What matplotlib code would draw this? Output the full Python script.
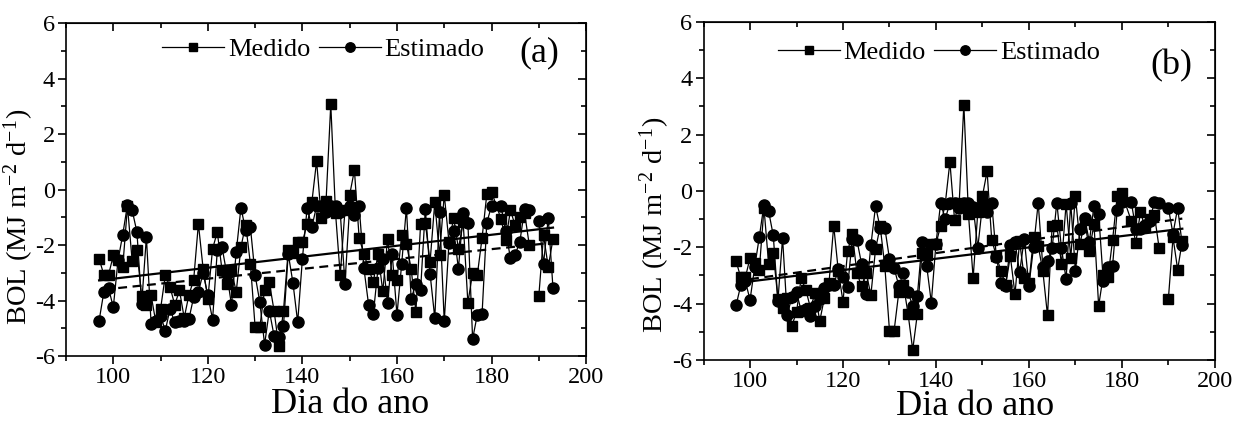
import numpy as np
import matplotlib
matplotlib.use("Agg")
import matplotlib.pyplot as plt
from matplotlib.ticker import MultipleLocator

plt.rcParams['font.family'] = ['Liberation Serif', 'DejaVu Serif']
plt.rcParams['mathtext.fontset'] = 'stix'
plt.rcParams['axes.unicode_minus'] = False

nan = np.nan

# day of year (181 not present, 189 breaks the lines)
days = list(range(97, 181)) + list(range(182, 194))

medido = [-2.49, -3.07, -3.07, -2.37, -2.55, -2.79, -0.60, -2.59, -2.19, -3.84,   # 97-106
          -4.15, -3.81, -4.78, -4.30, -3.09, -3.51, -4.15, -3.63, -4.62, -3.79,   # 107-116
          -3.25, -1.23, -2.85, -3.93, -2.13, -1.53, -2.91, -3.39, -2.91, -3.69,   # 117-126
          -2.07, -1.26, -2.67, -4.96, -4.96, -3.60, -3.33, -4.36, -5.64, -4.36,   # 127-136
          -2.19, -2.27, -1.89, -1.89, -1.23, -0.45, 1.03, -1.02, -0.42, 3.07,     # 137-146
          -0.83, -3.09, -0.75, -0.18, 0.70, -1.74, -2.31, -2.85, -3.33, -2.31,    # 147-156
          -3.67, -1.79, -3.09, -3.27, -1.65, -1.95, -2.85, -4.42, -1.23, -1.19,   # 157-166
          -2.61, -0.45, -2.37, -0.18, -1.89, -1.02, -2.13, -1.17, -4.08, -3.00,   # 167-176
          -3.07, -1.74, -0.17, -0.08,                                             # 177-180
          -1.05, -1.83, -0.75, -1.29, -0.99, -0.85, -2.01, nan, -3.84, -1.65,     # 182-191
          -2.79, -1.77]                                                           # 192-193

estimado_a = [-4.72, -3.69, -3.55, -4.24, -2.55, -1.62, -0.54, -0.75, -1.53, -4.12,
              -1.71, -4.84, -4.75, -4.54, -5.08, -4.30, -4.78, -4.72, -4.72, -4.66,
              -3.87, -3.69, -3.00, -3.81, -4.68, -2.19, -2.07, -3.03, -4.15, -2.25,
              -0.65, -1.47, -1.35, -3.09, -4.06, -5.58, -4.36, -5.26, -5.32, -4.90,
              -2.31, -3.36, -4.78, -2.49, -0.65, -1.35, -0.59, -0.59, -0.81, -0.59,
              -0.59, -0.81, -3.39, -0.59, -0.93, -0.59, -2.82, -4.15, -4.48, -2.82,
              -2.49, -4.09, -2.33, -4.51, -2.67, -0.65, -3.93, -3.39, -3.60, -0.69,
              -3.03, -4.63, -0.81, -4.75, -1.91, -1.50, -2.85, -0.83, -1.19, -5.38,
              -4.50, -4.48, -1.19, -0.59,
              -0.59, -1.50, -2.47, -2.35, -1.87, -0.69, -0.75, nan, -1.14, -2.67,
              -1.02, -3.55]

estimado_b = [-4.06, -3.35, -3.20, -3.87, -2.70, -1.63, -0.48, -0.72, -1.58, -3.90,
              -1.67, -4.42, -3.75, -3.60, -4.25, -4.20, -4.45, -4.10, -3.85, -3.45,
              -3.35, -3.35, -2.77, -3.07, -3.42, -1.69, -1.75, -2.59, -3.66, -1.93,
              -0.54, -1.31, -1.31, -2.41, -2.73, -3.37, -2.91, -3.60, -4.08, -3.72,
              -1.81, -2.65, -3.96, -1.87, -0.44, -0.98, -0.44, -0.44, -0.62, -0.44,
              -0.44, -0.56, -2.02, -0.50, -0.74, -0.44, -2.35, -3.25, -3.37, -1.93,
              -1.81, -2.89, -1.69, -3.37, -1.99, -0.42, -2.71, -2.47, -2.03, -0.41,
              -2.03, -3.13, -0.44, -2.83, -1.34, -0.95, -1.80, -0.53, -0.80, -3.19,
              -2.71, -2.65, -0.68, -0.38,
              -0.38, -1.34, -1.35, -1.20, -1.05, -0.38, -0.41, nan, -0.60, -1.52,
              -0.60, -1.93]

# trend lines (end points)
trend_a_solid_x, trend_a_solid_y = [97, 193], [-3.27, -1.37]
trend_a_dash_x, trend_a_dash_y = [98, 191], [-3.60, -1.95]
trend_b_solid_x, trend_b_solid_y = [98, 193], [-3.25, -1.34]
trend_b_dash_x, trend_b_dash_y = [100, 193], [-3.13, -0.98]

fig = plt.figure(figsize=(12.55, 4.23), dpi=100)
ax1 = fig.add_axes([0.0526, 0.158, 0.4144, 0.7876])
ax2 = fig.add_axes([0.5606, 0.149, 0.4074, 0.799])

# legend pos, tag pos, xlabel coords, ylabel coords
panels = [(ax1, estimado_a, trend_a_solid_x, trend_a_solid_y, trend_a_dash_x, trend_a_dash_y, '(a)',
           (0.495, 0.92), (0.91, 0.91), (0.546, -0.096), (-0.058, 0.42)),
          (ax2, estimado_b, trend_b_solid_x, trend_b_solid_y, trend_b_dash_x, trend_b_dash_y, '(b)',
           (0.46, 0.91), (0.915, 0.87), (0.532, -0.089), (-0.062, 0.40))]

for ax, est, sx, sy, dx, dy, tag, legpos, tagpos, xlc, ylc in panels:
    ax.plot(days, medido, color='black', lw=0.9, marker='s', ms=7.3, label='Medido')
    ax.plot(days, est, color='black', lw=0.9, marker='o', ms=8, label='Estimado')
    ax.plot(sx, sy, color='black', lw=1.6, ls='-')
    ax.plot(dx, dy, color='black', lw=1.6, ls=(0, (4, 2.5)))

    ax.set_xlim(90, 200)
    ax.set_ylim(-6, 6)
    ax.xaxis.set_major_locator(MultipleLocator(20))
    ax.xaxis.set_minor_locator(MultipleLocator(10))
    ax.yaxis.set_major_locator(MultipleLocator(2))
    ax.yaxis.set_minor_locator(MultipleLocator(1))
    ax.tick_params(which='both', direction='out', labelsize=17.5, width=1.2, pad=2)
    ax.tick_params(which='major', length=6)
    ax.tick_params(which='minor', length=3.5)
    for s in ax.spines.values():
        s.set_linewidth(1.2)

    top = ax.secondary_xaxis('top')
    top.xaxis.set_major_locator(MultipleLocator(20))
    top.xaxis.set_minor_locator(MultipleLocator(10))
    top.tick_params(which='both', direction='in', labeltop=False, width=1.2)
    top.tick_params(which='major', length=6)
    top.tick_params(which='minor', length=3.5)
    right = ax.secondary_yaxis('right')
    right.yaxis.set_major_locator(MultipleLocator(2))
    right.yaxis.set_minor_locator(MultipleLocator(1))
    right.tick_params(which='both', direction='in', labelright=False, width=1.2)
    right.tick_params(which='major', length=6)
    right.tick_params(which='minor', length=3.5)

    ax.set_xlabel('Dia do ano', fontsize=26)
    ax.xaxis.set_label_coords(*xlc)
    ax.set_ylabel(r'BOL (MJ m$^{\mathregular{-2}}$ d$^{\mathregular{-1}}$)', fontsize=20.5)
    ax.yaxis.set_label_coords(*ylc)

    ax.legend(loc='center', bbox_to_anchor=legpos, ncol=2, frameon=False, fontsize=19,
              handlelength=2.35, columnspacing=0.3, handletextpad=0.15, markerscale=0.85,
              borderpad=0.1)
    ax.text(tagpos[0], tagpos[1], tag, transform=ax.transAxes, fontsize=26,
            ha='center', va='center')

fig.savefig('out.png', dpi=100)
